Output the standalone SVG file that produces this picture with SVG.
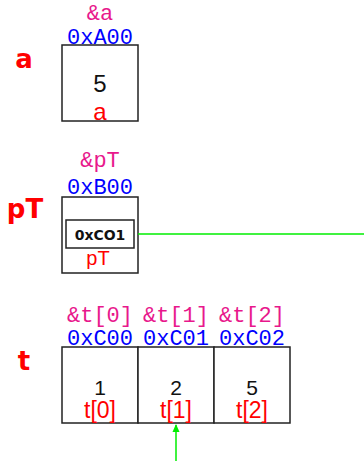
<svg xmlns="http://www.w3.org/2000/svg" width="364" height="461" viewBox="0 0 364 461">
<style>
.box{fill:#fff;stroke:#222;stroke-width:1.5}
.ref{font-family:"Liberation Mono","DejaVu Sans Mono",monospace;font-size:22px;fill:#e8188c;text-anchor:middle}
.addr{font-family:"Liberation Mono","DejaVu Sans Mono",monospace;font-size:22px;fill:#0000ff;text-anchor:middle}
.name{font-family:"DejaVu Sans",sans-serif;font-weight:bold;font-size:26px;fill:#ff0000;text-anchor:middle}
.val{font-family:"Liberation Sans",sans-serif;fill:#111;text-anchor:middle}
.lbl{font-family:"Liberation Sans",sans-serif;fill:#ff0000;text-anchor:middle}
.ptr{font-family:"DejaVu Sans",sans-serif;font-weight:bold;font-size:14px;fill:#111;text-anchor:middle}
.conn{stroke:#00ee00;stroke-width:1.5;fill:none}
</style>
<defs>
<marker id="ah" markerWidth="8" markerHeight="10" refX="8" refY="4" orient="auto" markerUnits="userSpaceOnUse" viewBox="0 0 9 8">
<path d="M0,0 L9,4 L0,8 Z" fill="#00ee00"/>
</marker>
</defs>

<g id="node-a">
<text class="name" x="24" y="68">a</text>
<text class="ref" x="100" y="20">&amp;a</text>
<text class="addr" x="100" y="44">0xA00</text>
<rect class="box" x="62" y="45" width="76" height="76"/>
<text class="val" x="100" y="92" font-size="24">5</text>
<text class="lbl" x="100" y="120" font-size="24">a</text>
</g>

<g id="node-pT">
<text class="name" x="25" y="218">pT</text>
<text class="ref" x="100" y="167">&amp;pT</text>
<text class="addr" x="100" y="194">0xB00</text>
<rect class="box" x="62" y="197" width="76" height="76"/>
<rect class="box" x="66" y="220" width="68" height="28"/>
<text class="ptr" x="100" y="240">0xCO1</text>
<text class="lbl" x="98" y="265" font-size="20">pT</text>
</g>

<g id="node-t">
<text class="name" x="24" y="370">t</text>
<text class="ref" x="100" y="322">&amp;t[0]</text>
<text class="ref" x="176" y="322">&amp;t[1]</text>
<text class="ref" x="252" y="322">&amp;t[2]</text>
<text class="addr" x="100" y="345">0xC00</text>
<text class="addr" x="176" y="345">0xC01</text>
<text class="addr" x="252" y="345">0xC02</text>
<rect class="box" x="62" y="347" width="76" height="76"/>
<rect class="box" x="138" y="347" width="76" height="76"/>
<rect class="box" x="214" y="347" width="76" height="76"/>
<text class="val" x="100" y="395" font-size="21">1</text>
<text class="val" x="176" y="395" font-size="21">2</text>
<text class="val" x="252" y="395" font-size="21">5</text>
<text class="lbl" x="100" y="418" font-size="23">t[0]</text>
<text class="lbl" x="176" y="418" font-size="23">t[1]</text>
<text class="lbl" x="252" y="418" font-size="23">t[2]</text>
</g>

<g id="connectors">
<line class="conn" x1="138" y1="234" x2="364" y2="234"/>
<line class="conn" x1="176" y1="461" x2="176" y2="425" marker-end="url(#ah)"/>
</g>
</svg>
